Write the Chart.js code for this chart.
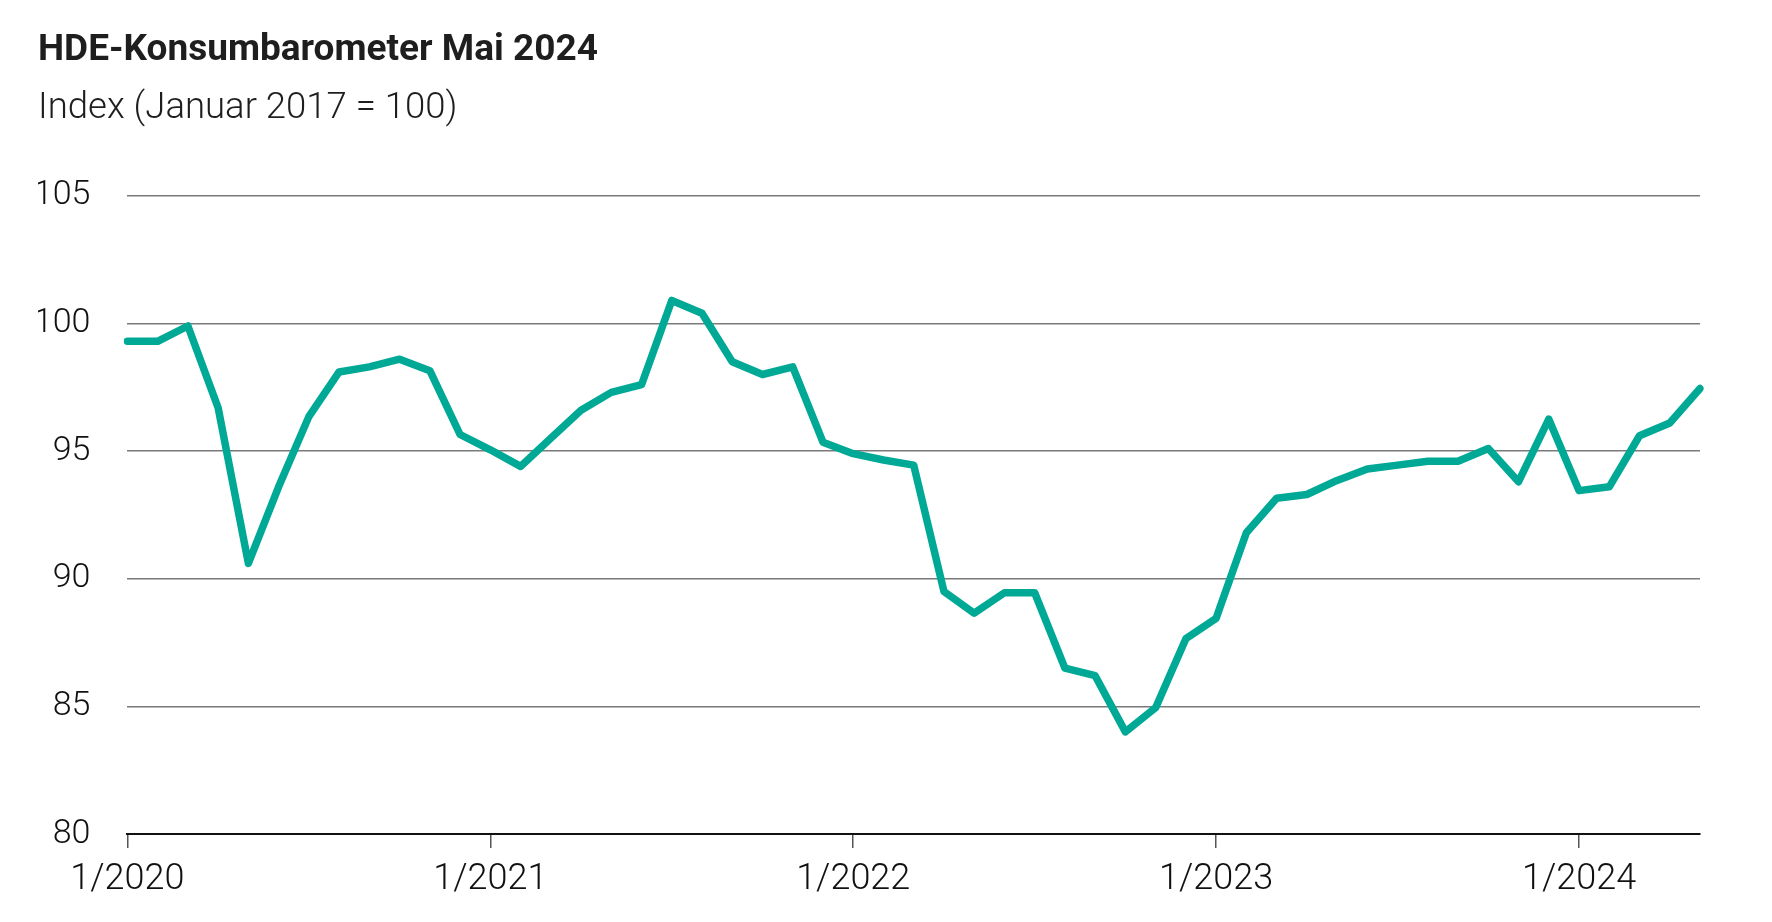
<!DOCTYPE html>
<html>
<head>
<meta charset="utf-8">
<script src="https://cdn.jsdelivr.net/npm/chart.js@4"></script>
<style>
  html, body { margin: 0; padding: 0; background: #fff; }
  #wrap { width: 1772px; height: 922px; }
</style>
</head>
<body>
<div id="wrap"><canvas id="chartLine" width="1772" height="922"></canvas></div>
<script>
var months = [
    "1/2020", "2/2020", "3/2020", "4/2020", "5/2020", "6/2020", "7/2020", "8/2020", "9/2020", "10/2020", "11/2020", "12/2020",
    "1/2021", "2/2021", "3/2021", "4/2021", "5/2021", "6/2021", "7/2021", "8/2021", "9/2021", "10/2021", "11/2021", "12/2021",
    "1/2022", "2/2022", "3/2022", "4/2022", "5/2022", "6/2022", "7/2022", "8/2022", "9/2022", "10/2022", "11/2022", "12/2022",
    "1/2023", "2/2023", "3/2023", "4/2023", "5/2023", "6/2023", "7/2023", "8/2023", "9/2023", "10/2023", "11/2023", "12/2023",
    "1/2024", "2/2024", "3/2024", "4/2024", "5/2024"
];

var konsumbarometer = [
    99.3, 99.3, 99.9, 96.7, 90.6, 93.6, 96.35, 98.1, 98.3, 98.6, 98.15, 95.65,
    95.05, 94.4, 95.5, 96.6, 97.3, 97.6, 100.9, 100.4, 98.5, 98.0, 98.3, 95.35,
    94.9, 94.65, 94.45, 89.5, 88.65, 89.45, 89.45, 86.5, 86.2, 84.0, 84.95, 87.65,
    88.45, 91.8, 93.15, 93.3, 93.85, 94.3, 94.45, 94.6, 94.6, 95.1, 93.8, 96.25,
    93.45, 93.6, 95.6, 96.1, 97.45
];

// only January gets a label + tick mark
var xTickLabels = ["1/2020", "1/2021", "1/2022", "1/2023", "1/2024"];
var yTicks = [80, 85, 90, 95, 100, 105];

var fontFamily = "Roboto, 'Liberation Sans', sans-serif";

document.addEventListener("DOMContentLoaded", function () {

    new Chart(document.getElementById('chartLine'), {
        type: 'line',
        data: {
            labels: months,
            datasets: [{
                label: 'HDE-Konsumbarometer',
                data: konsumbarometer,
                borderColor: '#00a995',
                borderWidth: 7.5,
                borderCapStyle: 'round',
                borderJoinStyle: 'round',
                pointRadius: 0,
                tension: 0,
                fill: false
            }]
        },
        options: {
            responsive: false,
            devicePixelRatio: 1,
            animation: false,
            layout: {
                padding: { left: 38, right: 72, top: 0, bottom: 0 }
            },
            plugins: {
                legend: { display: false },
                tooltip: { enabled: false },
                title: {
                    display: true,
                    text: 'HDE-Konsumbarometer Mai 2024',
                    align: 'start',
                    color: '#1e1e1e',
                    font: { family: fontFamily, size: 37, weight: 'bold', lineHeight: 1.2 },
                    padding: { top: 29, bottom: 0 }
                },
                subtitle: {
                    display: true,
                    text: 'Index (Januar 2017 = 100)',
                    align: 'start',
                    color: '#1e1e1e',
                    font: { family: fontFamily, size: 36.5, weight: 300, lineHeight: 1.2 },
                    padding: { top: 13.6, bottom: 65 }
                }
            },
            scales: {
                x: {
                    offset: false,
                    border: { display: true, color: '#111', width: 2 },
                    grid: {
                        display: true,
                        drawOnChartArea: false,
                        drawTicks: true,
                        tickLength: 14,
                        color: '#555',
                        lineWidth: 1.5
                    },
                    ticks: {
                        autoSkip: false,
                        maxRotation: 0,
                        minRotation: 0,
                        padding: 10,
                        color: '#111',
                        font: { family: fontFamily, size: 36, weight: 300 },
                        callback: function (value, index) {
                            var lbl = months[index];
                            return xTickLabels.indexOf(lbl) >= 0 ? lbl : null;
                        }
                    },
                    afterFit: function (scale) { scale.height = 88; }
                },
                y: {
                    min: 80,
                    max: 105,
                    border: { display: false },
                    grid: {
                        color: '#7a7a7a',
                        lineWidth: 1.6,
                        drawTicks: false
                    },
                    afterBuildTicks: function (scale) {
                        scale.ticks = yTicks.map(function (v) { return { value: v }; });
                    },
                    ticks: {
                        padding: 37,
                        color: '#111',
                        font: { family: fontFamily, size: 34, weight: 300 }
                    },
                    afterFit: function (scale) { scale.width = 89.4; }
                }
            }
        }
    });

});
</script>
</body>
</html>
